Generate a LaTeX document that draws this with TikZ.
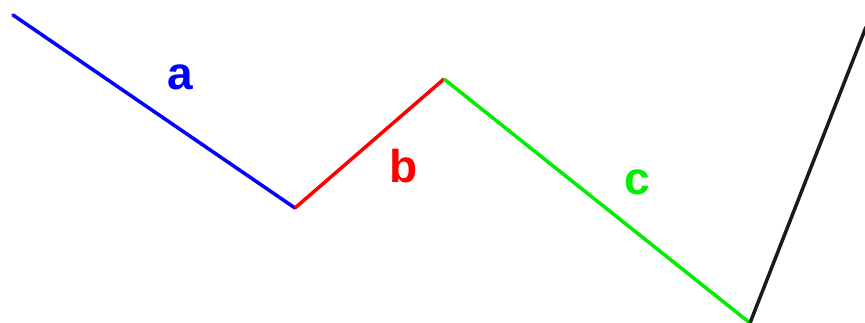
\documentclass[tikz,border=0pt]{standalone}
\usepackage{xcolor}
\usepackage{fontspec}
\setmainfont{Liberation Sans}
\usepackage{tikz}
\definecolor{sideblue}{HTML}{0000FF}
\definecolor{sidered}{HTML}{FF0000}
\definecolor{sidegreen}{HTML}{00EE00}
\definecolor{sideblack}{HTML}{1A1A1A}

\begin{document}
\begin{tikzpicture}[x=1pt,y=1pt]
\useasboundingbox (0,0) rectangle (865,323);
\coordinate (p0) at (13,308);
\coordinate (p1) at (295,115);
\coordinate (p2) at (444,244);
\coordinate (p3) at (750,0);
\coordinate (p4) at (866,296);
\draw[color=sideblue,line width=3.5pt,line cap=round] (p0) -- (p1);
\draw[color=sidered,line width=3.5pt] (p1) -- (p2);
\draw[color=sidegreen,line width=3.5pt] (p2) -- (p3);
\draw[color=sideblack,line width=3.5pt] (p3) -- (p4);
\node[inner sep=0pt,text=sideblue,font=\fontsize{46}{50}\selectfont\bfseries] (la) at (180,246) {a};
\node[inner sep=0pt,text=sidered,font=\fontsize{46}{50}\selectfont\bfseries] (lb) at (404,157) {b};
\node[inner sep=0pt,text=sidegreen,font=\fontsize{46}{50}\selectfont\bfseries] (lc) at (637,141) {c};
\end{tikzpicture}
\end{document}
